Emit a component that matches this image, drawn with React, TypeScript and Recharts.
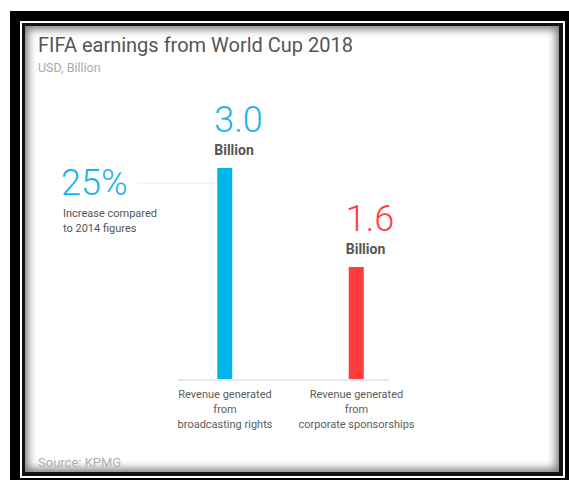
import React from "react";
import { BarChart, Bar, XAxis, YAxis, Cell, LabelList } from "recharts";

const categories = [
  "Revenue generated\nfrom\nbroadcasting rights",
  "Revenue generated\nfrom\ncorporate sponsorships",
];
const values = [3.0, 1.6];
const barColors = ["#00b5ea", "#ff3b3b"];
const labelColors = ["#1ab4e8", "#ff4040"];
const unitLabel = "Billion";
const title = "FIFA earnings from World Cup 2018";
const subtitle = "USD, Billion";
const source = "Source: KPMG";
const statValue = "25%";
const statLines = ["Increase compared", "to 2014 figures"];

const data = categories.map((name, i) => ({ name, value: values[i] }));

const FONT = "Roboto, 'Noto Sans', sans-serif";

function CategoryTick(props: any) {
  const { x, y, payload } = props;
  const lines = String(payload.value).split("\n");
  return (
    <text textAnchor="middle" fill="#5c5c5c" fontSize={11} fontFamily={FONT}>
      {lines.map((l: string, i: number) => (
        <tspan key={i} x={x} y={y + 18 + i * 15}>
          {l}
        </tspan>
      ))}
    </text>
  );
}

function ValueLabel(props: any) {
  const { x, y, value } = props;
  const idx = values.indexOf(Number(value));
  const color = labelColors[idx >= 0 ? idx : 0];
  return (
    <g>
      <text x={x - 3} y={y - 36} fill={color} fontSize={36} fontWeight={300} fontFamily={FONT}>
        {Number(value).toFixed(1)}
      </text>
      <text x={x - 3} y={y - 13} fill="#555" fontSize={14} fontWeight={700} fontFamily={FONT}>
        {unitLabel}
      </text>
    </g>
  );
}

export default function App() {
  return (
    <div
      style={{
        position: "absolute",
        left: 0,
        top: 0,
        width: 569,
        height: 482,
        background: "#fff",
        overflow: "hidden",
      }}
    >
      <div style={{ position: "absolute", left: 10, top: 11, width: 559, height: 469, background: "#000" }} />
      <div style={{ position: "absolute", left: 20, top: 21, width: 545, height: 457, background: "#fff" }} />
      <div style={{ position: "absolute", left: 22, top: 23, width: 541, height: 453, background: "#111" }} />
      <div
        style={{
          position: "absolute",
          left: 25,
          top: 26,
          width: 534,
          height: 446,
          background: "#fff",
          boxShadow: "inset 0 0 8px 3px rgba(0,0,0,0.55)",
        }}
      />
      <svg
        width={569}
        height={482}
        style={{ position: "absolute", left: 0, top: 0 }}
        fontFamily={FONT}
      >
        <text x={38} y={52} fontSize={20} fill="#555">
          {title}
        </text>
        <text x={38} y={72} fontSize={12.5} fill="#aaa">
          {subtitle}
        </text>
        <text x={38} y={467} fontSize={13} fill="#b0b0b0">
          {source}
        </text>
        <text x={61} y={195} fontSize={36} fontWeight={300} fill={labelColors[0]}>
          {statValue}
        </text>
        {statLines.map((l, i) => (
          <text key={i} x={63} y={217 + i * 15} fontSize={11} fill="#555">
            {l}
          </text>
        ))}
        <line x1={137} y1={183} x2={217} y2={183} stroke="#ebebeb" strokeWidth={1} />
      </svg>
      <div style={{ position: "absolute", left: 0, top: 0 }}>
        <BarChart
          width={569}
          height={482}
          data={data}
          margin={{ top: 168, right: 180, bottom: 42, left: 178 }}
        >
          <XAxis
            dataKey="name"
            height={60}
            axisLine={{ stroke: "#e8e8e8", strokeWidth: 2 }}
            tickLine={false}
            tickSize={0}
            tickMargin={0}
            interval={0}
            padding={{ left: -18.75, right: -33.25 }}
            tick={<CategoryTick />}
          />
          <YAxis hide domain={[0, 3]} />
          <Bar dataKey="value" barSize={15} isAnimationActive={false}>
            {data.map((d, i) => (
              <Cell key={i} fill={barColors[i]} />
            ))}
            <LabelList dataKey="value" content={<ValueLabel />} />
          </Bar>
        </BarChart>
      </div>
    </div>
  );
}
